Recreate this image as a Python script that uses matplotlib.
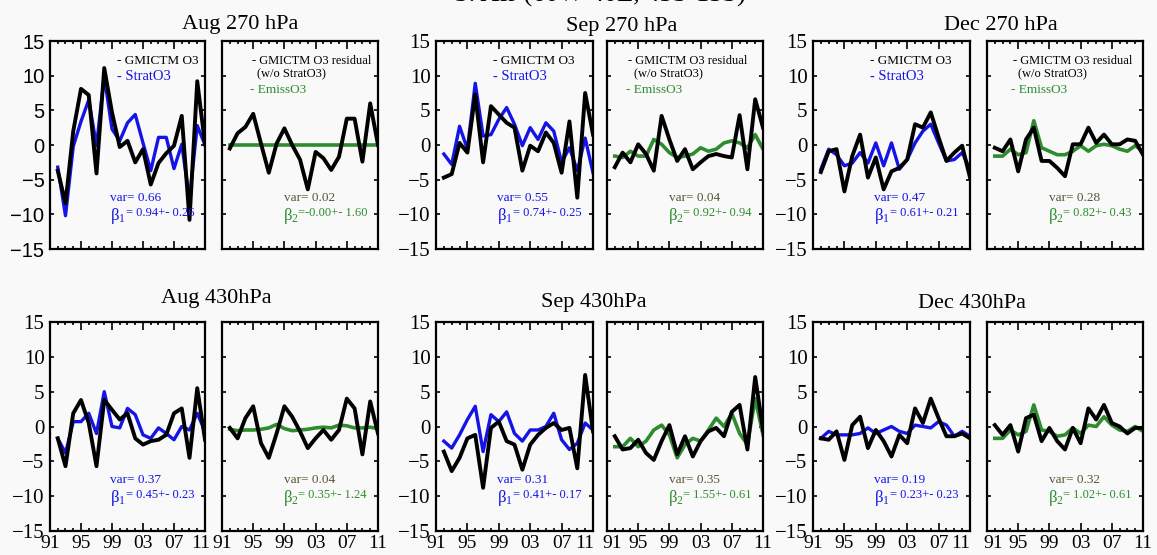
import matplotlib
matplotlib.use('Agg')
import matplotlib.pyplot as plt
from matplotlib.ticker import MultipleLocator, FixedLocator
from matplotlib.transforms import ScaledTranslation

years = list(range(1992, 2012))
xtick_pos = [1991, 1995, 1999, 2003, 2007, 2011]
xtick_lab = ['91', '95', '99', '03', '07', '11']

# ---- Aug 270 hPa ----
aug270_gmi = [-3.7, -8.4, 2.0, 8.1, 7.2, -4.1, 11.1, 4.7, -0.3, 0.6, -2.5, -0.6, -5.7, -2.6, -1.2, -0.1, 4.2, -10.8, 9.2, 0.1]
aug270_strat = [-3.2, -10.2, -0.2, 3.4, 6.5, -0.1, 9.9, 2.3, 0.6, 3.2, 4.4, 0.3, -3.7, 1.1, 1.1, -3.4, 0.1, -7.8, 2.8, 0.0]
aug270_resid = [-0.5, 1.7, 2.6, 4.5, 0.2, -4.0, 0.2, 2.4, 0.0, -2.1, -6.4, -1.0, -1.9, -3.6, -1.7, 3.8, 3.8, -2.4, 6.0, 0.0]
aug270_emiss = [0.0] * 20
# ---- Sep 270 hPa ----
sep270_gmi = [-4.7, -4.2, 0.3, -1.1, 7.3, -2.5, 5.6, 4.4, 3.2, 2.5, -3.7, -0.1, -0.9, 1.8, 0.3, -4.0, 3.4, -7.6, 7.5, 1.5]
sep270_strat = [-1.3, -2.8, 2.7, -0.6, 8.9, 1.3, 1.5, 3.7, 5.4, 3.0, -0.1, 2.5, 0.8, 3.2, 2.0, -2.5, -0.4, -3.7, 1.0, -4.0]
sep270_resid = [-3.2, -1.1, -2.5, 0.1, -1.3, -3.7, 4.2, 0.8, -2.3, -0.6, -3.5, -2.5, -1.6, -1.3, -1.6, -1.8, 4.3, -3.5, 6.6, 2.5]
sep270_emiss = [-1.6, -1.8, -0.9, -1.6, -1.6, 0.8, 0.1, -1.1, -1.8, -1.6, -1.3, -0.4, -0.9, -0.6, 0.3, 0.6, 0.3, -0.4, 1.5, -0.6]
# ---- Dec 270 hPa ----
dec270_gmi = [-3.9, -0.9, -0.6, -6.7, -1.6, 1.5, -4.7, -1.8, -6.4, -3.8, -3.3, -2.1, 3.0, 2.5, 4.7, 1.1, -2.3, -1.1, -0.1, -4.7]
dec270_strat = [-3.5, -0.6, -1.4, -3.0, -2.6, -1.1, -2.6, 0.3, -3.0, 0.3, -3.5, -2.1, 0.3, 2.0, 3.0, 0.3, -2.3, -2.1, -1.1, -3.5]
dec270_resid = [-0.4, -0.9, 0.8, -3.8, 0.8, 2.5, -2.3, -2.3, -3.3, -4.5, 0.1, 0.1, 2.5, 0.3, 1.5, 0.1, 0.1, 0.8, 0.6, -1.4]
dec270_emiss = [-1.6, -1.6, -0.6, -1.4, -1.1, 3.5, -0.4, -0.9, -1.4, -1.4, -0.9, -0.1, -0.9, -0.1, 0.1, -0.1, -0.6, -0.9, -0.1, -0.9]
# ---- Aug 430 hPa ----
aug430_gmi = [-1.7, -5.7, 1.9, 3.8, 0.5, -5.7, 3.8, 2.4, 1.0, 1.9, -1.7, -2.6, -2.1, -1.9, -1.2, 1.9, 2.6, -4.5, 5.5, -1.9]
aug430_strat = [-1.7, -3.8, 0.7, 0.7, 1.9, -1.0, 5.0, 0.0, -0.2, 2.6, 1.7, -1.2, -1.7, -0.2, -1.0, -1.9, 0.0, -0.5, 1.9, -0.7]
aug430_resid = [-0.2, -1.7, 1.2, 2.9, -2.4, -4.5, -1.0, 2.9, 1.4, -0.7, -3.1, -1.7, -0.5, -1.9, -0.5, 4.0, 2.6, -4.0, 3.6, -1.0]
aug430_emiss = [-0.4, -0.6, -0.5, -0.5, -0.4, -0.2, 0.3, -0.3, -0.6, -0.5, -0.4, -0.2, -0.1, -0.2, 0.2, 0.1, -0.2, -0.2, -0.1, -0.3]
# ---- Sep 430 hPa ----
sep430_gmi = [-3.6, -6.4, -4.5, -1.7, -1.2, -8.8, -0.2, 0.7, -2.1, -2.6, -6.2, -2.6, -1.2, -0.2, 0.5, -0.5, -0.2, -6.0, 7.4, -0.7]
sep430_strat = [-2.1, -3.1, -1.2, 1.0, 2.9, -3.6, 1.7, 0.7, 2.1, -1.0, -2.1, -0.5, -0.5, 0.0, 1.9, -1.9, -3.3, -2.4, 0.5, -0.5]
sep430_resid = [-1.4, -3.3, -3.1, -1.9, -3.8, -4.8, -2.1, 0.2, -4.0, -1.4, -4.3, -2.1, -0.7, -0.2, -1.4, 2.1, 3.1, -3.3, 7.1, -0.5]
sep430_emiss = [-2.9, -2.9, -1.7, -2.9, -2.1, -0.5, 0.2, -1.2, -4.5, -2.6, -1.7, -2.1, -0.5, 1.2, 0.0, 1.9, -1.0, -2.6, 4.0, -1.2]
# ---- Dec 430 hPa ----
dec430_gmi = [-1.7, -1.9, -0.7, -4.8, 0.2, 1.4, -3.1, -0.5, -2.1, -4.3, -1.2, -2.4, 2.6, 0.5, 4.0, 1.2, -1.4, -1.4, -1.0, -1.7]
dec430_strat = [-1.7, -0.7, -1.2, -1.2, -1.2, -1.0, -0.2, -1.0, -0.5, 0.0, -0.7, -1.0, 0.2, 0.0, -0.2, 0.7, 0.2, -1.4, -0.7, -1.4]
dec430_resid = [0.2, -1.2, 0.2, -3.6, 1.2, 1.7, -2.1, -0.2, -2.1, -3.3, -0.2, -2.4, 2.6, 1.0, 3.1, 0.5, 0.0, -1.0, -0.2, -0.2]
dec430_emiss = [-1.7, -1.7, -0.5, -1.2, -0.7, 3.1, -0.5, -0.7, -1.4, -1.2, -0.2, -1.0, 0.2, 0.0, 1.4, 0.2, -0.5, -0.7, 0.0, -0.7]

titles_top = ['Aug 270 hPa', 'Sep 270 hPa', 'Dec 270 hPa']
titles_bot = ['Aug 430hPa', 'Sep 430hPa', 'Dec 430hPa']
var1 = [['0.66', '0.55', '0.47'], ['0.37', '0.31', '0.19']]
beta1 = [['= 0.94+- 0.26', '= 0.74+- 0.25', '= 0.61+- 0.21'], ['= 0.45+- 0.23', '= 0.41+- 0.17', '= 0.23+- 0.23']]
var2 = [['0.02', '0.04', '0.28'], ['0.04', '0.35', '0.32']]
beta2 = [['=-0.00+- 1.60', '= 0.92+- 0.94', '= 0.82+- 0.43'], ['= 0.35+- 1.24', '= 1.55+- 0.61', '= 1.02+- 0.61']]
suptitle = 'S. Afr (60W-40E, 45S-15S)'

left_data = [[(aug270_gmi, aug270_strat), (sep270_gmi, sep270_strat), (dec270_gmi, dec270_strat)],
             [(aug430_gmi, aug430_strat), (sep430_gmi, sep430_strat), (dec430_gmi, dec430_strat)]]
right_data = [[(aug270_resid, aug270_emiss), (sep270_resid, sep270_emiss), (dec270_resid, dec270_emiss)],
              [(aug430_resid, aug430_emiss), (sep430_resid, sep430_emiss), (dec430_resid, dec430_emiss)]]

plt.rcParams['font.family'] = ['Liberation Serif', 'DejaVu Serif']
plt.rcParams['mathtext.fontset'] = 'custom'
plt.rcParams['mathtext.rm'] = 'Liberation Serif'
plt.rcParams['mathtext.it'] = 'Liberation Serif'

BG = '#f9f9f9'
BLUE = '#1414e6'
GREEN = '#2e8b2e'
VARGRAY = '#555533'

W, H = 1157, 555
fig = plt.figure(figsize=(W / 100, H / 100), dpi=100, facecolor=BG)

cols_px = [(50, 205), (222, 378), (436, 593), (607, 763), (813, 970), (987, 1143)]
rows_px = [(41, 249), (322, 531)]


def make_ax(c, r):
    x0, x1 = cols_px[c]
    y0, y1 = rows_px[r]
    return fig.add_axes([x0 / W, 1 - y1 / H, (x1 - x0) / W, (y1 - y0) / H])


def shift_label(label, dx_px):
    label.set_transform(label.get_transform() +
                        ScaledTranslation(dx_px / 100.0, 0, fig.dpi_scale_trans))


def style(ax, ylabels, xlabels, sans=False, first_dx=0, last_dx=0):
    ax.set_facecolor(BG)
    ax.set_xlim(1991, 2011)
    ax.set_ylim(-15, 15)
    ax.xaxis.set_major_locator(FixedLocator(xtick_pos))
    ax.xaxis.set_minor_locator(MultipleLocator(1))
    ax.yaxis.set_major_locator(MultipleLocator(5))
    ax.tick_params(which='both', direction='in', top=True, right=True, width=1.2, color='black')
    ax.tick_params(axis='x', which='major', length=5.5, pad=3, labelsize=14)
    ax.tick_params(axis='x', which='minor', length=2.5)
    ax.tick_params(axis='y', which='major', length=3, pad=4, labelsize=15)
    for s in ax.spines.values():
        s.set_linewidth(1.6)
    if xlabels:
        labs = ax.set_xticklabels(xtick_lab)
        shift_label(labs[0], first_dx)
        shift_label(labs[-1], last_dx)
    else:
        ax.set_xticklabels([])
    if not ylabels:
        ax.set_yticklabels([])
    elif sans:
        for t in ax.get_yticklabels():
            t.set_family(['Liberation Sans', 'DejaVu Sans'])
            t.set_fontsize(14.5)


def beta_label(ax, x, y, sub, rest, color):
    t = ax.text(x, y, r'$\beta_{%s}$' % sub, transform=ax.transAxes, color=color,
                fontsize=12, va='center', ha='left')
    ax.annotate(rest, xy=(1.0, 0.62), xycoords=t, color=color,
                fontsize=9, va='center', ha='left')


leg_left_x = [0.43, 0.36, 0.36]
leg_right_x = [0.19, 0.135, 0.165]
last_shift_left = [-4, -8, -9]
first_shift_right = [0, 5, 6]

for r in range(2):
    for g in range(3):
        axL = make_ax(2 * g, r)
        axR = make_ax(2 * g + 1, r)
        gmi, strat = left_data[r][g]
        resid, emiss = right_data[r][g]
        axL.plot(years, strat, color=BLUE, lw=2.4, zorder=2)
        axL.plot(years, gmi, color='black', lw=2.8, zorder=3)
        axR.plot(years, emiss, color=GREEN, lw=2.6, zorder=2)
        axR.plot(years, resid, color='black', lw=2.8, zorder=3)
        style(axL, True, r == 1, sans=(r == 0 and g == 0), last_dx=last_shift_left[g])
        style(axR, False, r == 1, first_dx=first_shift_right[g])

        axL.text(0.39, 0.245, 'var= ' + var1[r][g], transform=axL.transAxes,
                 color=BLUE, fontsize=9.5, va='center', ha='left')
        beta_label(axL, 0.39, 0.16, '1', beta1[r][g], BLUE)
        axR.text(0.40, 0.245, 'var= ' + var2[r][g], transform=axR.transAxes,
                 color=VARGRAY, fontsize=9.5, va='center', ha='left')
        beta_label(axR, 0.39, 0.16, '2', beta2[r][g], GREEN)

        if r == 0:
            xl = leg_left_x[g]
            axL.text(xl, 0.905, '- GMICTM O3', transform=axL.transAxes,
                     color='black', fontsize=9.5, va='center', ha='left')
            axL.text(xl, 0.83, '- StratO3', transform=axL.transAxes,
                     color=BLUE, fontsize=10.5, va='center', ha='left')
            xr = leg_right_x[g]
            axR.text(xr, 0.905, '- GMICTM O3 residual', transform=axR.transAxes,
                     color='black', fontsize=9, va='center', ha='left')
            axR.text(xr + 0.035, 0.84, '(w/o StratO3)', transform=axR.transAxes,
                     color='black', fontsize=9, va='center', ha='left')
            axR.text(xr - 0.01, 0.765, '- EmissO3', transform=axR.transAxes,
                     color=GREEN, fontsize=9.5, va='center', ha='left')

top_title_pos = [(240, 25), (622, 27), (1001, 25)]
bot_title_pos = [(216, 298), (594, 302), (972, 304)]
for g in range(3):
    x, y = top_title_pos[g]
    fig.text(x / W, 1 - y / H, titles_top[g], ha='center', va='center', fontsize=16)
    x, y = bot_title_pos[g]
    fig.text(x / W, 1 - y / H, titles_bot[g], ha='center', va='center', fontsize=16)

fig.text(600 / W, 1 - 2 / H, suptitle, ha='center', va='baseline', fontsize=19)

fig.savefig('out.png', dpi=100, facecolor=BG)
